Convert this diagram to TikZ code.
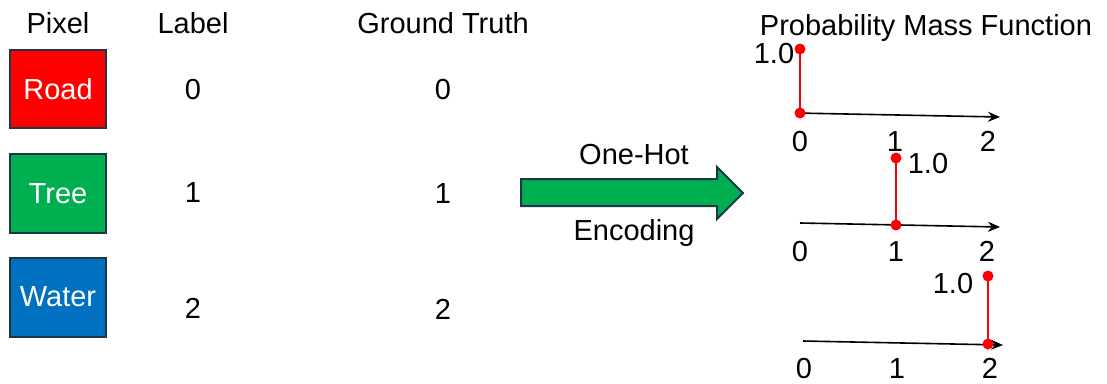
\documentclass[tikz,border=0pt]{standalone}
\usepackage{fontspec}
\setmainfont{Liberation Sans}
\usetikzlibrary{arrows.meta}
\definecolor{boxline}{HTML}{1E3546}
\definecolor{roadred}{HTML}{FF0000}
\definecolor{treegreen}{HTML}{00B050}
\definecolor{waterblue}{HTML}{0070C0}
\tikzset{
  txt/.style={anchor=base, inner sep=0pt, font=\fontsize{29}{33}\selectfont},
  pixbox/.style={draw=boxline, line width=2.5pt},
  axisline/.style={line width=1.6pt, -{Stealth[length=12pt,width=10pt]}},
  stem/.style={red, line width=2.5pt},
  dot/.style={circle, fill=red, inner sep=0pt, minimum size=11pt},
}
\begin{document}
\begin{tikzpicture}[x=1pt,y=-1pt]
\useasboundingbox (0,0) rectangle (1107,383);
% headers
\node[txt] (hpix) at (58,33) {Pixel};
\node[txt] (hlab) at (193,33) {Label};
\node[txt] (hgt) at (443,33) {Ground Truth};
\node[txt] (hpmf) at (926,35) {Probability Mass Function};
% pixel boxes
\draw[pixbox, fill=roadred] (10,50) rectangle (106,128);
\draw[pixbox, fill=treegreen] (10,154) rectangle (106,233);
\draw[pixbox, fill=waterblue] (10,258) rectangle (106,337);
\node[txt, text=white] (road) at (58,99) {Road};
\node[txt, text=white] (tree) at (58,203) {Tree};
\node[txt, text=white] (water) at (58,306) {Water};
% labels
\node[txt] (l0) at (193,99) {0};
\node[txt] (l1) at (193,202) {1};
\node[txt] (l2) at (193,318) {2};
% ground truth
\node[txt] (g0) at (443,99) {0};
\node[txt] (g1) at (443,203) {1};
\node[txt] (g2) at (443,319) {2};
% block arrow
\draw[draw=boxline, line width=2pt, fill=treegreen, line join=miter]
  (521,179) -- (717,179) -- (717,167) -- (743,193) -- (717,219) -- (717,206) -- (521,206) -- cycle;
\node[txt] (onehot) at (634,164) {One-Hot};
\node[txt] (enc) at (634,240) {Encoding};
% PMF 1
\coordinate (a1s) at (795,113);
\coordinate (a1e) at (1000,117);
\draw[axisline] (a1s) -- (a1e);
\coordinate (s1b) at (800,113);
\coordinate (s1t) at (800,49);
\draw[stem] (s1b) -- (s1t);
\node[dot] (d1b) at (s1b) {};
\node[dot] (d1t) at (s1t) {};
\node[txt] (v1) at (774,63) {1.0};
\node[txt] (t10) at (800,151) {0};
\node[txt] (t11) at (895,151) {1};
\node[txt] (t12) at (988,151) {2};
% PMF 2
\coordinate (a2s) at (800,223);
\coordinate (a2e) at (1000,227);
\draw[axisline] (a2s) -- (a2e);
\coordinate (s2b) at (896,225);
\coordinate (s2t) at (896,158);
\draw[stem] (s2b) -- (s2t);
\node[dot] (d2b) at (s2b) {};
\node[dot] (d2t) at (s2t) {};
\node[txt] (v2) at (928,173) {1.0};
\node[txt] (t20) at (800,261) {0};
\node[txt] (t21) at (896,261) {1};
\node[txt] (t22) at (987,261) {2};
% PMF 3
\coordinate (a3s) at (803,341);
\coordinate (a3e) at (1003,345);
\draw[axisline] (a3s) -- (a3e);
\coordinate (s3b) at (988,344);
\coordinate (s3t) at (988,276);
\draw[stem] (s3b) -- (s3t);
\node[dot] (d3b) at (s3b) {};
\node[dot] (d3t) at (s3t) {};
\node[txt] (v3) at (953,293) {1.0};
\node[txt] (t30) at (804,378) {0};
\node[txt] (t31) at (897,378) {1};
\node[txt] (t32) at (990,378) {2};
\end{tikzpicture}
\end{document}
